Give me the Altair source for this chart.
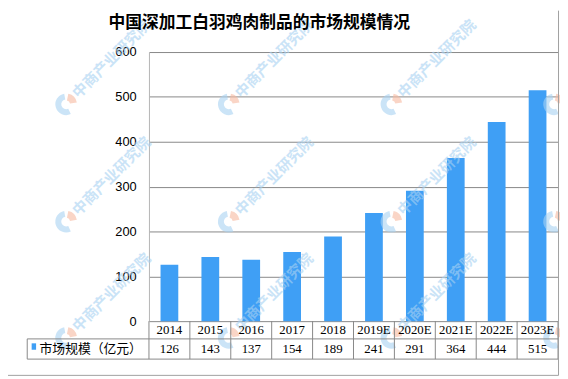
import altair as alt
import pandas as pd

years = ["2014", "2015", "2016", "2017", "2018", "2019E", "2020E", "2021E", "2022E", "2023E"]
values = [126, 143, 137, 154, 189, 241, 291, 364, 444, 515]
title_text = "中国深加工白羽鸡肉制品的市场规模情况"
series_name = "市场规模（亿元）"
y_ticks = [0, 100, 200, 300, 400, 500, 600]

# watermark logo centres (page pixels)
wm_logo_cols = [67, 232, 397, 562]
wm_text_cols = [67, 232, 397]
wm_rows = [103, 222, 340]
wm_text = "中商产业研究院"

df = pd.DataFrame({"year": years, "value": values})
OX, OY = 151, 50  # plot origin in page pixels
wm_logo = pd.DataFrame([{"lx": c - OX, "ly": r - OY} for c in wm_logo_cols for r in wm_rows])
wm_lbl = pd.DataFrame([{"tx": c - OX + 9, "ty": r - OY - 9} for c in wm_text_cols for r in wm_rows])

W, H = 415, 273
BAR = "#3f9ff5"
LINE = "#878787"

xs = alt.X("year:N", sort=years, axis=None,
           scale=alt.Scale(paddingInner=0, paddingOuter=0))
base = alt.Chart(df)

bars = base.mark_bar(size=18, color=BAR).encode(
    x=xs,
    y=alt.Y("value:Q", scale=alt.Scale(domain=[0, 600], nice=False),
            axis=alt.Axis(values=y_ticks, title=None, ticks=False, domainColor="#b4b4b4",
                          gridColor=LINE, labelPadding=13, labelFont="Liberation Sans",
                          labelFontSize=13, labelColor="#000000")),
)

wm_txt = alt.Chart(wm_lbl).mark_text(font="Noto Sans CJK SC", fontSize=15, fontWeight="bold", angle=315,
                                     align="left", baseline="middle", color="#a8d2f2", opacity=0.6).encode(
    x=alt.X("tx:Q", scale=None, axis=None), y=alt.Y("ty:Q", scale=None, axis=None),
    text=alt.value(wm_text))
lbase = alt.Chart(wm_logo)
wm_blue = lbase.mark_arc(theta=2.7, theta2=6.1, radius=11, radius2=5, color="#a8d2f2", opacity=0.6).encode(
    x=alt.X("lx:Q", scale=None, axis=None), y=alt.Y("ly:Q", scale=None, axis=None))
wm_orange = lbase.mark_arc(theta=0.2, theta2=1.4, radius=11, radius2=4, color="#f6b9a0", opacity=0.6).encode(
    x=alt.X("lx:Q", scale=None, axis=None), y=alt.Y("ly:Q", scale=None, axis=None))

year_txt = base.mark_text(font="Liberation Serif", fontSize=13, color="#000", baseline="middle").encode(
    x=xs, y=alt.value(282.5), text="year:N")
val_txt = base.mark_text(font="Liberation Serif", fontSize=13, color="#000", baseline="middle").encode(
    x=xs, y=alt.value(301), text="value:Q")

vlines = base.mark_rule(color=LINE, strokeWidth=1).encode(
    x=alt.X("year:N", sort=years, bandPosition=0, axis=None,
            scale=alt.Scale(paddingInner=0, paddingOuter=0)),
    y=alt.value(273), y2=alt.value(311.5))

one = alt.Chart(pd.DataFrame({"k": [0]}))
right_line = one.mark_rule(color=LINE).encode(x=alt.value(415), y=alt.value(273), y2=alt.value(311.5))
legend_left = one.mark_rule(color=LINE).encode(x=alt.value(-123.5), y=alt.value(291), y2=alt.value(311.5))
h1 = one.mark_rule(color=LINE).encode(x=alt.value(-123.5), x2=alt.value(415), y=alt.value(291))
h2 = one.mark_rule(color=LINE).encode(x=alt.value(-123.5), x2=alt.value(415), y=alt.value(311.5))
outer_r = one.mark_rule(color="#a0a0a0").encode(x=alt.value(415.5), y=alt.value(-42), y2=alt.value(328))
outer_b = one.mark_rule(color="#a0a0a0").encode(x=alt.value(-143), x2=alt.value(415.5), y=alt.value(328))

sq = one.mark_rect(color=BAR).encode(x=alt.value(-119), x2=alt.value(-114.5),
                                     y=alt.value(295.5), y2=alt.value(302))
leg_txt = one.mark_text(font="Noto Sans CJK SC", fontSize=13, align="left", baseline="middle",
                        color="#000").encode(x=alt.value(-111), y=alt.value(301), text=alt.value(series_name))
title = one.mark_text(font="Noto Sans CJK SC", fontSize=17, fontWeight="bold", align="center",
                      baseline="middle", color="#000").encode(
    x=alt.value(112), y=alt.value(-29), text=alt.value(title_text))

chart = alt.layer(bars, wm_blue, wm_orange, wm_txt, vlines, right_line, legend_left, h1, h2,
                  year_txt, val_txt, sq, leg_txt, title, outer_r, outer_b).resolve_scale(
    x="independent", y="independent").properties(
    width=W, height=H,
    padding={"left": 143, "top": 42, "right": 2, "bottom": 56},
    autosize=alt.AutoSizeParams(type="none"),
    background="white",
).configure_view(stroke=None)

chart.save("out.html", embed_options={"renderer": "svg", "actions": False})
